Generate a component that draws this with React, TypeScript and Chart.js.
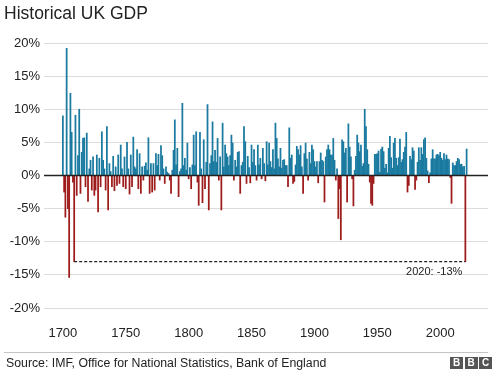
import { useEffect, useRef } from "react";
import { Chart, registerables } from "chart.js";

Chart.register(...registerables);

const FIRST_YEAR = 1700;

// Annual UK GDP growth (%), one value per year
const growth1700s = [
  9.0, -2.5, -6.3, 19.2, -5.0, -15.4, 12.4, 6.5, -1.0, -13.0,
  9.1, -3.0, 3.0, 10.0, -2.7, 3.5, 5.6, 5.7, -1.7, 6.4,
  -3.9, 1.0, 2.3, -2.2, 2.8, -3.0, -2.2, 3.1, -5.5, 2.6,
  -1.7, 6.6, 2.3, 1.0, -2.2, 7.4, -5.2, 1.8, 0.6, -1.7,
  2.9, -2.3, 1.3, -1.5, 3.1, -1.2, 4.6, 1.0, -1.7, 2.8,
  -2.0, 5.0, 1.0, -2.8, 3.1, -1.7, 5.8, 1.3, 1.0, 3.9,
  -2.0, 3.3, -2.7, 1.3, -0.7, 1.4, 1.9, 0.8, 5.7, -2.7,
  1.8, -2.5, 1.8, -2.2, 3.3, 1.5, 3.2, -0.7, 4.5, 3.0,
  1.0, -1.2, 1.3, 0.5, 0.3, -0.7, -2.7, 0.8, 3.8, 8.4,
  1.6, 4.1, -3.2, 0.6, 1.0, 10.9, 1.5, 2.6, 0.8, 4.9,
];
const growth1800s = [
  -0.5, 1.2, -2.0, 1.6, 6.1, 1.5, 6.6, -1.0, -4.5, 6.5,
  1.0, -4.1, 5.4, -2.0, 2.0, 10.7, -5.2, 1.8, 3.0, 8.1,
  2.1, 3.8, 2.0, 5.6, -0.7, 2.8, -5.2, 7.9, 1.3, 4.6,
  3.3, 2.8, 1.5, 3.0, 6.1, 4.9, -0.7, 2.3, 1.3, 3.5,
  3.6, -2.7, 1.5, 2.0, 7.4, 5.1, -1.2, 2.9, 1.2, -1.1,
  4.6, 2.0, 3.9, 1.5, -0.7, 4.6, 1.6, 2.6, -0.5, 4.1,
  1.8, -0.8, 5.1, 1.6, 4.9, 2.1, 1.2, 3.9, 1.0, 7.9,
  5.6, 2.5, 1.3, 4.1, 1.1, 2.3, 2.4, 1.5, 1.5, -1.7,
  7.2, 2.6, 3.1, -1.2, -0.9, 1.6, 4.4, 3.9, 3.1, 4.5,
  1.3, -2.7, 3.3, 4.9, 2.5, -0.7, 3.5, 1.8, 4.6, 3.9,
];
const growth1900s = [
  2.1, 1.3, 2.1, -1.1, 2.1, 3.4, 2.3, 2.1, -4.0, 2.8,
  3.9, 4.6, 3.9, 3.1, 3.1, 5.6, 2.3, -0.7, 1.0, -6.5,
  -2.0, -9.7, 5.4, 5.1, 3.4, 4.1, -4.0, 7.8, 4.3, 2.8,
  -0.5, -4.6, 0.8, 2.9, 6.1, 4.9, 3.6, 4.6, 1.4, 1.8,
  10.0, 7.4, 3.9, 1.7, -1.0, -4.2, -4.5, -1.2, 3.2, 3.2,
  3.3, 3.7, 0.5, 4.0, 4.3, 3.6, 1.1, 1.7, 0.4, 4.1,
  5.9, 2.7, 1.1, 4.9, 5.6, 2.6, 1.5, 2.7, 5.5, 2.0,
  2.4, 3.5, 4.3, 6.5, -2.5, -1.5, 2.9, 2.4, 4.2, 3.7,
  -2.1, -0.7, 2.0, 4.2, 2.3, 4.2, 3.2, 5.4, 5.7, 2.6,
  0.7, -1.1, 0.4, 2.5, 3.9, 2.5, 2.5, 3.1, 3.2, 3.0,
];
const growth2000s = [
  3.5, 2.6, 2.3, 3.3, 2.4, 3.1, 2.5, 2.4, -0.3, -4.2,
  1.9, 1.5, 1.5, 2.1, 2.6, 2.4, 1.7, 1.7, 1.3, 1.4,
  -13.0, 4.0,
];

const yTickValues = [-20, -15, -10, -5, 0, 5, 10, 15, 20];
const xTickValues = [1700, 1750, 1800, 1850, 1900, 1950, 2000];

const FROST_YEAR = 1709;
const RECORD_YEAR = 2020;
const RECORD_VALUE = -13;
const RECORD_LABEL = "2020: -13%";

const TITLE = "Historical UK GDP";
const SOURCE = "Source: IMF, Office for National Statistics, Bank of England";

const BLUE = "#1a7aa0";
const RED = "#9e1b1b";
const FONT = "'Liberation Sans', Arial, Helvetica, sans-serif";

export default function App() {
  const canvasRef = useRef<HTMLCanvasElement | null>(null);

  useEffect(() => {
    const values = [...growth1700s, ...growth1800s, ...growth1900s, ...growth2000s];
    const points = values.map((v, i) => ({ x: FIRST_YEAR + i, y: v }));
    const colors = values.map((v) => (v >= 0 ? BLUE : RED));

    const overlay = {
      id: "overlay",
      afterDatasetsDraw(chart: any) {
        const { ctx, chartArea, scales } = chart;
        const y0 = scales.y.getPixelForValue(0);
        ctx.save();
        ctx.strokeStyle = "#222";
        ctx.lineWidth = 1.5;
        ctx.beginPath();
        ctx.moveTo(chartArea.left, y0);
        ctx.lineTo(chartArea.right, y0);
        ctx.stroke();
        const lx = scales.x.getPixelForValue(RECORD_YEAR) - 3;
        const ly = scales.y.getPixelForValue(RECORD_VALUE) + 10;
        ctx.font = `11px ${FONT}`;
        ctx.fillStyle = "#222";
        ctx.textAlign = "right";
        ctx.textBaseline = "middle";
        ctx.fillText(RECORD_LABEL, lx, ly);
        ctx.restore();
      },
    };

    const chart = new Chart(canvasRef.current as HTMLCanvasElement, {
      type: "bar",
      data: {
        datasets: [
          {
            type: "line",
            data: [
              { x: FROST_YEAR, y: RECORD_VALUE },
              { x: RECORD_YEAR, y: RECORD_VALUE },
            ],
            borderColor: "#222",
            borderWidth: 1.3,
            borderDash: [3, 2],
            pointRadius: 0,
            order: 1,
          } as any,
          {
            type: "bar",
            data: points,
            backgroundColor: colors,
            barThickness: 1.1,
            grouped: false,
            order: 2,
          } as any,
        ],
      },
      options: {
        animation: false,
        responsive: false,
        maintainAspectRatio: false,
        layout: { padding: { top: 43, right: 12, bottom: 0, left: 0 } },
        plugins: { legend: { display: false }, tooltip: { enabled: false } },
        scales: {
          x: {
            type: "linear",
            offset: false,
            min: 1685,
            max: 2038,
            grid: { display: false, offset: false },
            border: { display: false },
            ticks: {
              font: { family: FONT, size: 13 },
              color: "#222",
              padding: 10,
              maxRotation: 0,
              callback: (v: any) => String(v),
            },
            afterBuildTicks: (s: any) => {
              s.ticks = xTickValues.map((v) => ({ value: v }));
            },
            afterFit: (s: any) => {
              s.height = 68;
            },
          },
          y: {
            min: -20,
            max: 20,
            grid: { color: "#dcdcdc", drawTicks: false, lineWidth: 1 },
            border: { display: false },
            ticks: {
              font: { family: FONT, size: 13 },
              color: "#222",
              padding: 4,
              callback: (v: any) => `${v}%`,
            },
            afterBuildTicks: (s: any) => {
              s.ticks = yTickValues.map((v) => ({ value: v }));
            },
            afterFit: (s: any) => {
              s.width = 44;
            },
          },
        },
      },
      plugins: [overlay],
    });
    return () => chart.destroy();
  }, []);

  const box = (letter: string, left: number) => (
    <div
      style={{
        position: "absolute",
        left,
        top: 357,
        width: 13,
        height: 12,
        background: "#555",
        color: "#fff",
        fontFamily: FONT,
        fontWeight: "bold",
        fontSize: 10,
        lineHeight: "12px",
        textAlign: "center",
      }}
    >
      {letter}
    </div>
  );

  return (
    <div
      style={{
        position: "fixed",
        left: 0,
        top: 0,
        width: 500,
        height: 376,
        background: "#fff",
        overflow: "hidden",
      }}
    >
      <canvas
        ref={canvasRef}
        width={500}
        height={376}
        style={{ position: "absolute", left: 0, top: 0, width: 500, height: 376 }}
      />
      <div
        style={{
          position: "absolute",
          left: 4,
          top: 3,
          fontFamily: FONT,
          fontSize: 17.5,
          color: "#222",
          whiteSpace: "nowrap",
        }}
      >
        {TITLE}
      </div>
      <div
        style={{
          position: "absolute",
          left: 4,
          top: 352,
          width: 484,
          height: 1,
          background: "#c4c4c4",
        }}
      />
      <div
        style={{
          position: "absolute",
          left: 6,
          top: 356,
          fontFamily: FONT,
          fontSize: 12.3,
          color: "#222",
          whiteSpace: "nowrap",
        }}
      >
        {SOURCE}
      </div>
      {box("B", 450)}
      {box("B", 464.5)}
      {box("C", 479)}
    </div>
  );
}
